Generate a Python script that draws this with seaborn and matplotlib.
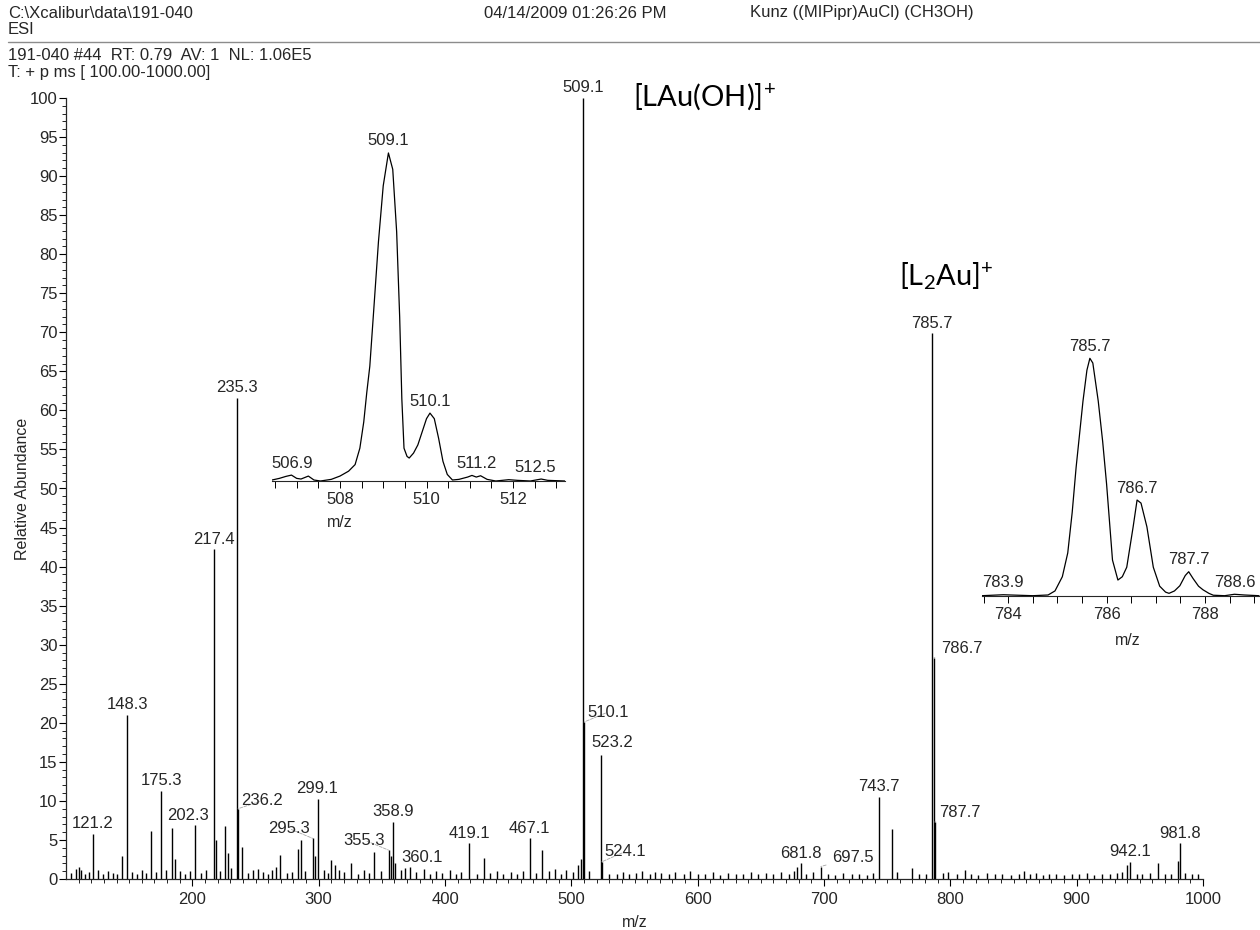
import numpy as np
import pandas as pd
import matplotlib
matplotlib.use('Agg')
import matplotlib.pyplot as plt
from matplotlib.lines import Line2D
import seaborn as sns

# ---- main spectrum: labelled peaks (m/z, relative abundance) ----
label_mz = [121.2, 148.3, 175.3, 202.3, 217.4, 235.3, 236.2, 295.3, 299.1, 355.3,
            358.9, 360.1, 419.1, 467.1, 509.1, 510.1, 523.2, 524.1, 681.8, 697.5,
            743.7, 785.7, 786.7, 787.7, 942.1, 981.8]
label_int = [5.8, 21.0, 11.3, 6.9, 42.2, 61.6, 9.0, 5.2, 10.3, 3.7,
             7.3, 2.0, 4.6, 5.2, 100.0, 20.1, 15.9, 2.2, 2.0, 1.6,
             10.5, 69.9, 28.3, 7.3, 2.2, 4.6]

# unlabelled peaks
other_mz = [110, 112, 144, 167.2, 183.9, 186, 219, 225.8, 228.5, 239.5, 252, 266,
            269.3, 283.3, 285.7, 297, 310, 313, 325.5, 344, 357, 372, 383, 430.5,
            477, 505, 507.5, 551.5, 566, 679, 753.9, 769.8, 812, 858, 940, 964, 980.5]
other_int = [1.6, 1.2, 2.9, 6.1, 6.5, 2.5, 5.0, 6.8, 3.3, 4.1, 1.3, 1.5,
             3.1, 3.8, 5.0, 3.0, 2.4, 1.8, 2.0, 3.5, 3.0, 1.6, 1.3, 2.7,
             3.7, 1.8, 2.6, 0.8, 0.9, 1.6, 6.4, 1.4, 1.2, 1.0, 1.8, 2.1, 2.3]

# baseline noise (read approximately)
noise_mz = [104, 108, 115, 118, 125, 129, 133, 137, 140, 152, 156, 160, 163, 171,
            179, 190, 194, 198, 207, 211, 222, 231, 244, 248, 256, 260, 263, 275,
            279, 289, 304, 307, 316, 320, 331, 336, 340, 349, 365, 368, 377, 388,
            393, 398, 404, 409, 413, 425, 436, 441, 446, 452, 457, 462, 472, 482,
            487, 492, 496, 501, 514, 530, 536, 541, 546, 556, 562, 571, 577, 582,
            589, 594, 600, 606, 612, 618, 624, 630, 636, 642, 648, 654, 660, 666,
            672, 676, 686, 691, 703, 709, 715, 722, 728, 734, 739, 758, 775, 781,
            794, 798, 805, 816, 822, 829, 835, 841, 848, 854, 863, 868, 873, 878,
            884, 890, 896, 902, 908, 914, 920, 926, 932, 936, 948, 952, 958, 970,
            975, 986, 991, 996]
noise_int = [0.8, 1.3, 0.6, 0.9, 1.1, 0.7, 1.0, 0.8, 0.6, 0.9, 0.7, 1.1, 0.8, 0.9,
             1.2, 1.0, 0.7, 1.0, 0.8, 1.2, 1.0, 1.4, 0.8, 1.1, 0.9, 0.7, 1.2, 0.8,
             0.9, 1.0, 1.1, 0.8, 1.2, 0.9, 0.7, 1.1, 0.8, 1.0, 1.1, 1.4, 0.9, 0.7,
             1.0, 0.8, 1.1, 0.7, 0.9, 0.6, 0.8, 1.0, 0.7, 0.9, 0.6, 1.0, 0.8, 1.0,
             1.3, 0.7, 1.1, 0.9, 1.0, 0.7, 0.6, 0.9, 0.7, 1.0, 0.6, 0.8, 0.7, 0.9,
             0.6, 1.0, 0.7, 0.6, 0.9, 0.5, 0.8, 0.6, 0.7, 0.9, 0.6, 0.8, 0.7, 0.9,
             0.6, 1.0, 0.7, 0.9, 0.6, 0.5, 0.8, 0.6, 0.7, 0.5, 0.8, 0.9, 0.7, 0.6,
             0.8, 0.9, 0.6, 0.7, 0.5, 0.8, 0.6, 0.7, 0.5, 0.7, 0.6, 0.8, 0.5, 0.7,
             0.6, 0.5, 0.7, 0.6, 0.8, 0.5, 0.7, 0.6, 0.8, 0.9, 0.7, 0.6, 0.8, 0.6,
             0.7, 0.8, 0.6, 0.7]

# ---- inset 1: isotope pattern around 509 ----
ins1_mz = [506.43, 506.6, 506.75, 506.88, 507.0, 507.1, 507.27, 507.4, 507.55, 507.8,
           508.0, 508.2, 508.35, 508.46, 508.55, 508.62, 508.69, 508.78, 508.89, 509.0,
           509.12, 509.22, 509.31, 509.38, 509.43, 509.48, 509.55, 509.6, 509.7, 509.8,
           509.9, 510.0, 510.08, 510.18, 510.28, 510.38, 510.48, 510.6, 510.75, 510.95,
           511.05, 511.15, 511.25, 511.4, 511.6, 511.9, 512.1, 512.4, 512.65, 512.8, 513.2]
ins1_int = [0.3, 0.8, 1.4, 1.8, 0.8, 0.6, 1.5, 0.3, 0.0, 0.5,
            1.5, 3.0, 5.0, 10.0, 18.0, 27.0, 35.0, 52.0, 73.0, 90.0,
            100.0, 95.0, 76.0, 50.0, 25.0, 10.0, 7.5, 7.0, 8.5, 11.0,
            15.0, 19.0, 20.7, 19.0, 13.0, 6.0, 2.0, 0.3, 0.5, 1.2,
            1.7, 1.2, 1.6, 0.5, 0.0, 0.4, 0.2, 0.0, 0.6, 0.2, 0.0]
ins1_labels = ['506.9', '509.1', '510.1', '511.2', '512.5']
ins1_label_mz = [506.9, 509.12, 510.08, 511.15, 512.5]
ins1_label_int = [1.8, 100.0, 20.7, 1.7, 0.6]

# ---- inset 2: isotope pattern around 785 ----
ins2_mz = [783.46, 783.9, 784.2, 784.5, 784.81, 784.95, 785.1, 785.21, 785.3, 785.38,
           785.52, 785.6, 785.66, 785.72, 785.83, 785.92, 786.0, 786.12, 786.23, 786.32,
           786.41, 786.54, 786.62, 786.7, 786.82, 786.95, 787.08, 787.2, 787.27, 787.38,
           787.49, 787.6, 787.67, 787.76, 787.87, 787.96, 788.08, 788.17, 788.4, 788.6,
           788.8, 789.1]
ins2_int = [0.0, 0.4, 0.2, 0.0, 0.3, 2.0, 8.0, 18.0, 35.0, 54.0,
            82.0, 95.0, 100.0, 98.0, 82.0, 65.0, 47.0, 15.0, 6.6, 8.0,
            12.0, 29.0, 40.3, 39.0, 29.0, 12.0, 4.0, 1.5, 1.0, 2.0,
            4.2, 8.5, 10.1, 7.2, 4.0, 2.5, 1.0, 0.2, 0.0, 0.6,
            0.3, 0.0]
ins2_labels = ['783.9', '785.7', '786.7', '787.7', '788.6']
ins2_label_mz = [783.9, 785.66, 786.62, 787.67, 788.6]
ins2_label_int = [0.4, 100.0, 40.3, 10.1, 0.6]

# label placement (pixel offsets of label centre from peak top)
label_offsets = {
    '202.3': (-7, 10), '236.2': (24, 8), '295.3': (-24, 10), '355.3': (-24, 10),
    '360.1': (27, 6), '510.1': (24, 10), '523.2': (12, 12), '524.1': (23, 10),
    '697.5': (32, 9), '786.7': (28, 9), '787.7': (25, 9),
}
leaders = {'236.2', '295.3', '355.3', '360.1', '510.1', '524.1', '697.5', '786.7', '787.7'}

sns.set_theme(style='ticks')
plt.rcParams['font.family'] = ['Liberation Sans', 'DejaVu Sans']
plt.rcParams['mathtext.fontset'] = 'custom'
plt.rcParams['mathtext.rm'] = 'Lato'
plt.rcParams['mathtext.it'] = 'Lato'
plt.rcParams['mathtext.bf'] = 'Lato'

W, H = 1260, 930
fig = plt.figure(figsize=(W / 100, H / 100), dpi=100)


def fx(x):
    return x / W


def fy(y):
    return 1 - y / H


# main axes
ax = fig.add_axes([fx(66), fy(879), fx(1203) - fx(66), fy(98) - fy(879)])
sticks = pd.DataFrame({
    'mz': label_mz + other_mz + noise_mz,
    'intensity': label_int + other_int + noise_int,
})
ax.vlines(sticks['mz'], 0, sticks['intensity'], color='black', lw=1.0)
ax.set_xlim(100, 1000)
ax.set_ylim(0, 100)
sns.despine(ax=ax)
ax.spines['left'].set_linewidth(0.9)
ax.spines['bottom'].set_linewidth(0.9)
ax.set_yticks(np.arange(0, 101, 5))
ax.set_yticks(np.arange(0, 101, 1), minor=True)
ax.set_xticks(np.arange(200, 1001, 100))
ax.set_xticks(np.arange(110, 1000, 10), minor=True)
ax.tick_params(axis='both', which='major', length=5, width=0.8, labelsize=12, pad=1, color='black')
ax.tick_params(axis='both', which='minor', length=3, width=0.6, color='black')
ax.tick_params(axis='x', which='major', pad=4)
ax.set_ylabel('Relative Abundance', fontsize=11.5, labelpad=0)
ax.set_xlabel('m/z', fontsize=11.5, labelpad=6)
ax.grid(False)

for mz, h in zip(label_mz, label_int):
    txt = f'{mz:.1f}'
    dx, dy = label_offsets.get(txt, (0, 10))
    props = None
    if txt in leaders:
        props = dict(arrowstyle='-', color='0.65', lw=0.6, ls='--', shrinkA=2, shrinkB=0)
    ax.annotate(txt, xy=(mz, h), xytext=(dx, dy), textcoords='offset pixels',
                ha='center', va='center', fontsize=12, arrowprops=props)

# big ion labels
ax.text(605.5, 100.1, r'[LAu(OH)]$^{+}$', fontsize=21, ha='center', va='center',
        family='Lato', color='black')
ax.text(797, 77.2, r'[L$_{2}$Au]$^{+}$', fontsize=21, ha='center', va='center',
        family='Lato', color='black')


def draw_inset(rect, mzs, ints, xlim, ylim, majors, lab_txt, lab_mz, lab_int, mz_pos):
    ia = fig.add_axes(rect)
    ia.patch.set_alpha(0)
    sns.lineplot(x=mzs, y=ints, ax=ia, color='black', lw=0.9, estimator=None, sort=False)
    ia.set_xlim(*xlim)
    ia.set_ylim(*ylim)
    for s in ['left', 'right', 'top']:
        ia.spines[s].set_visible(False)
    ia.spines['bottom'].set_linewidth(0.8)
    ia.set_yticks([])
    ia.set_xticks(majors)
    ia.set_xticks(np.arange(np.ceil(xlim[0] * 2) / 2, xlim[1], 0.5), minor=True)
    ia.tick_params(axis='x', which='both', length=5, width=0.7, labelsize=12, pad=3, color='black')
    ia.set_xlabel('m/z', fontsize=11.5)
    ia.xaxis.set_label_coords(*mz_pos)
    ia.set_ylabel('')
    ia.grid(False)
    for t, m, h in zip(lab_txt, lab_mz, lab_int):
        ia.annotate(t, xy=(m, h), xytext=(0, 12), textcoords='offset pixels',
                    ha='center', va='center', fontsize=12)
    return ia


draw_inset([fx(272), fy(481), fx(565) - fx(272), fy(130) - fy(481)],
           ins1_mz, ins1_int, (506.43, 513.2), (0, 107), [508, 510, 512],
           ins1_labels, ins1_label_mz, ins1_label_int, (0.232, -0.097))
draw_inset([fx(981.7), fy(595.7), fx(1260) - fx(981.7), fy(340) - fy(595.7)],
           ins2_mz, ins2_int, (783.46, 789.12), (0, 107.7), [784, 786, 788],
           ins2_labels, ins2_label_mz, ins2_label_int, (0.526, -0.145))

# header
hdr = dict(fontsize=12, ha='left', va='center')
fig.text(fx(8), fy(13), 'C:\\Xcalibur\\data\\191-040', **hdr)
fig.text(fx(8), fy(29), 'ESI', **hdr)
fig.text(fx(484), fy(13), '04/14/2009 01:26:26 PM', **hdr)
fig.text(fx(750), fy(13), 'Kunz ((MIPipr)AuCl) (CH3OH)', **hdr)
fig.add_artist(Line2D([fx(8), 1.0], [fy(42), fy(42)], color='0.55', lw=1.0))
fig.text(fx(8), fy(56), '191-040 #44  RT: 0.79  AV: 1  NL: 1.06E5', **hdr)
fig.text(fx(8), fy(72), 'T: + p ms [ 100.00-1000.00]', **hdr)

fig.savefig('out.png', dpi=100, facecolor='white')
